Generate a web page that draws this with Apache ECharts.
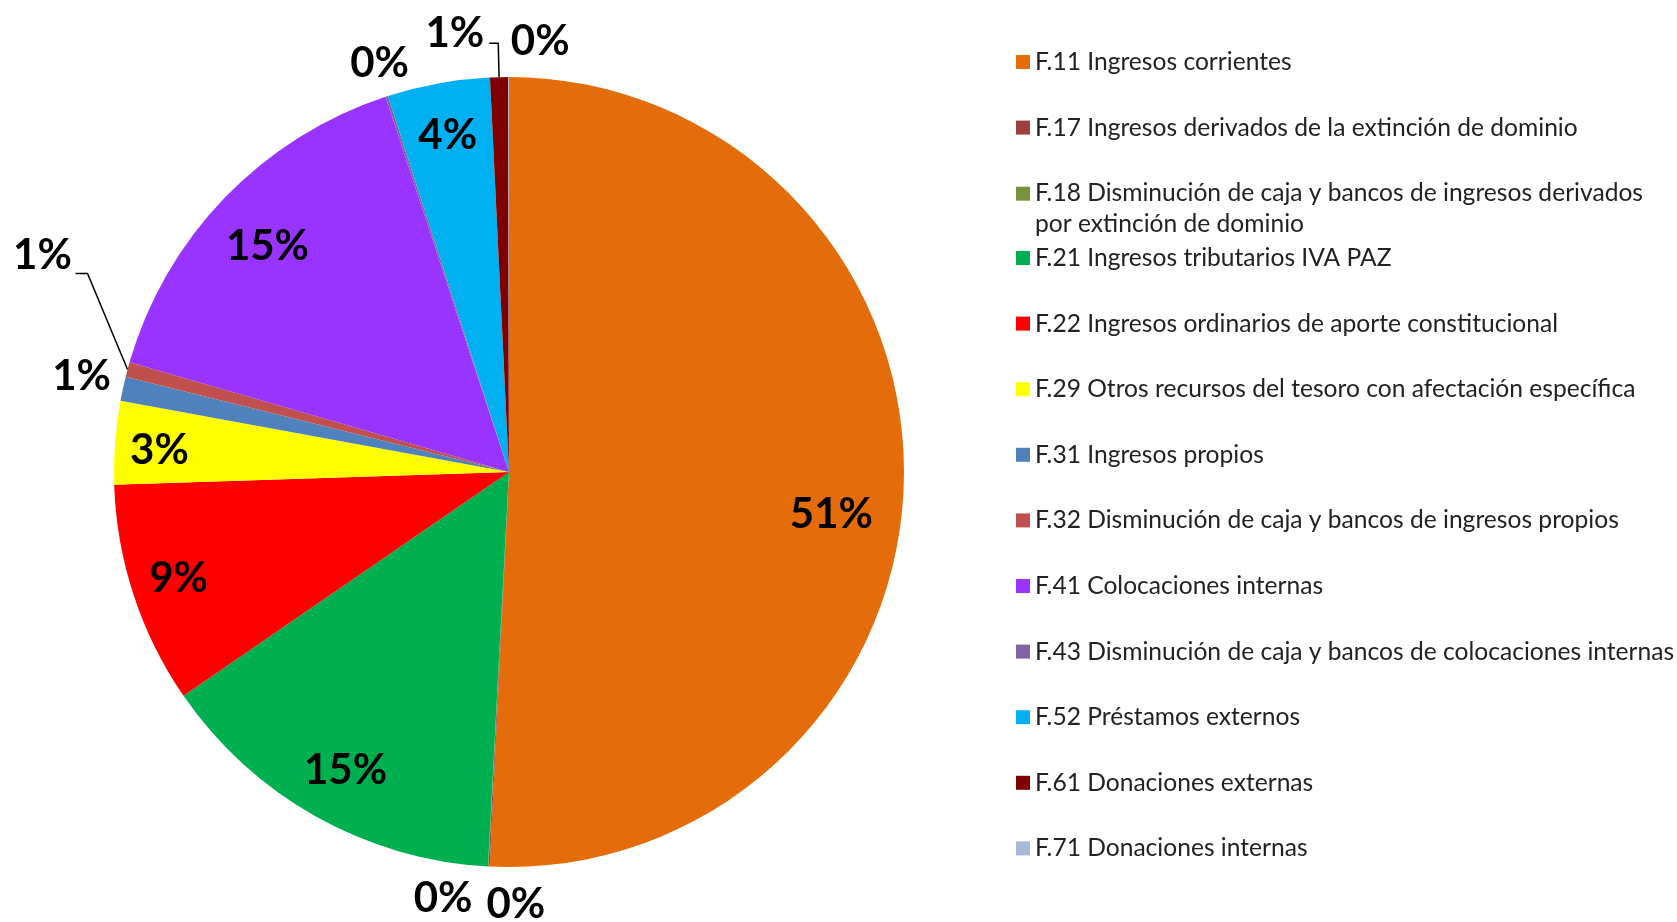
<!DOCTYPE html>
<html>
<head>
<meta charset="utf-8">
<script src="https://cdn.jsdelivr.net/npm/echarts@6/dist/echarts.min.js"></script>
<style>
  html, body { margin: 0; padding: 0; background: #fff; }
  #chart { width: 1677px; height: 922px; }
</style>
</head>
<body>
<div id="chart"></div>
<script>
// fuentes de financiación (participación %)
const categories = [
  'F.11 Ingresos corrientes',
  'F.17 Ingresos derivados de la extinción de dominio',
  'F.18 Disminución de caja y bancos de ingresos derivados\npor extinción de dominio',
  'F.21 Ingresos tributarios IVA PAZ',
  'F.22 Ingresos ordinarios de aporte constitucional',
  'F.29 Otros recursos del tesoro con afectación específica',
  'F.31 Ingresos propios',
  'F.32 Disminución de caja y bancos de ingresos propios',
  'F.41 Colocaciones internas',
  'F.43 Disminución de caja y bancos de colocaciones internas',
  'F.52 Préstamos externos',
  'F.61 Donaciones externas',
  'F.71 Donaciones internas'
];
const values = [50.9, 0.05, 0.02, 14.6, 9.1, 3.4, 1.0, 0.6, 15.5, 0.1, 4.2, 0.74, 0.03];
const colors = ['#E46C0A', '#9E413E', '#77933C', '#00B050', '#FF0000', '#FFFF00', '#4F81BD',
  '#C0504D', '#9933FF', '#8064A2', '#00B0F0', '#7F0000', '#A7B9D9'];

// qué etiquetas van dentro del sector
const insideIdx = [0, 3, 4, 5, 8, 10];
// etiquetas externas: largo de la guía y ajuste fino
const outsideCfg = {
  1: { len: 32, len2: 10, d: [0, 0] },
  2: { len: 38, len2: 10, d: [74, 0] },
  6: { len: 5, len2: 0, d: [-2, -11] },
  7: { len: 10, len2: 10, d: [-31, -111], line: true, bend: [[-40, -96], [-52, -96]] },
  9: { len: 35, len2: 0, d: [38, 0] },
  11: { len: 34, len2: 9, d: [0, -10], line: true },
  12: { len: 36, len2: 0, d: [66, 0] }
};
const insideShift = { 0: [-20, 34], 5: [-8, 4], 8: [5, 12], 3: [4, 0], 4: [-5, 0] };

const FONT = 'Lato';
const LEG_SIZE = 24.6;
const pct = p => Math.round(p.percent) + '%';
const labelFont = { fontFamily: FONT, fontSize: 42, fontWeight: 'bold', color: '#000' };

const mainData = categories.map((name, i) => {
  const c = outsideCfg[i];
  return {
    name: name,
    value: values[i],
    itemStyle: { color: colors[i] },
    label: { show: !!c },
    labelLine: c ? { show: !!c.line, length: c.len, length2: c.len2 } : { show: false }
  };
});

const overlayData = categories.map((name, i) => ({
  name: name,
  value: values[i],
  label: { show: insideIdx.indexOf(i) >= 0 }
}));

// leyenda en dos bloques: la segunda línea de F.18 no empuja al resto
const legendBase = {
  orient: 'vertical',
  left: 1011,
  icon: 'rect',
  itemWidth: 14,
  itemHeight: 14,
  itemGap: 5.6,
  selectedMode: false,
  formatter: name => {
    const parts = name.split('\n');
    return parts.length > 1 ? '{a|' + parts[0] + '}\n{b|' + parts[1] + '}' : name;
  },
  textStyle: {
    fontFamily: FONT, fontSize: LEG_SIZE, color: '#222', lineHeight: 60,
    rich: {
      a: { fontFamily: FONT, fontSize: LEG_SIZE, color: '#222', lineHeight: 60 },
      b: { fontFamily: FONT, fontSize: LEG_SIZE, color: '#222', lineHeight: 1 }
    }
  }
};

const chart = echarts.init(document.getElementById('chart'));
chart.setOption({
  backgroundColor: '#fff',
  animation: false,
  legend: [
    Object.assign({ top: 27, data: categories.slice(0, 3) }, legendBase),
    Object.assign({ top: 223, data: categories.slice(3) }, legendBase)
  ],
  series: [{
    name: 'main',
    type: 'pie',
    center: [509, 472],
    radius: 395,
    startAngle: 90,
    clockwise: true,
    avoidLabelOverlap: false,
    emphasis: { disabled: true },
    label: Object.assign({ position: 'outside', formatter: pct }, labelFont),
    labelLine: { lineStyle: { color: '#000', width: 1.5 }, smooth: false },
    labelLayout: p => {
      const c = outsideCfg[p.dataIndex];
      if (!c) return {};
      const out = { dx: c.d[0], dy: c.d[1] };
      if (c.bend && p.labelLinePoints) {
        const p0 = p.labelLinePoints[0];
        out.labelLinePoints = [p0].concat(c.bend.map(b => [p0[0] + b[0], p0[1] + b[1]]));
      }
      return out;
    },
    data: mainData
  }, {
    name: 'labels',
    type: 'pie',
    center: [509, 472],
    radius: [284, 395],
    startAngle: 90,
    clockwise: true,
    silent: true,
    z: 3,
    itemStyle: { color: 'rgba(0,0,0,0)' },
    label: Object.assign({ position: 'inside', formatter: pct }, labelFont),
    labelLine: { show: false },
    labelLayout: p => {
      const s = insideShift[p.dataIndex];
      return s ? { dx: s[0], dy: s[1] } : {};
    },
    data: overlayData
  }]
});
</script>
</body>
</html>
